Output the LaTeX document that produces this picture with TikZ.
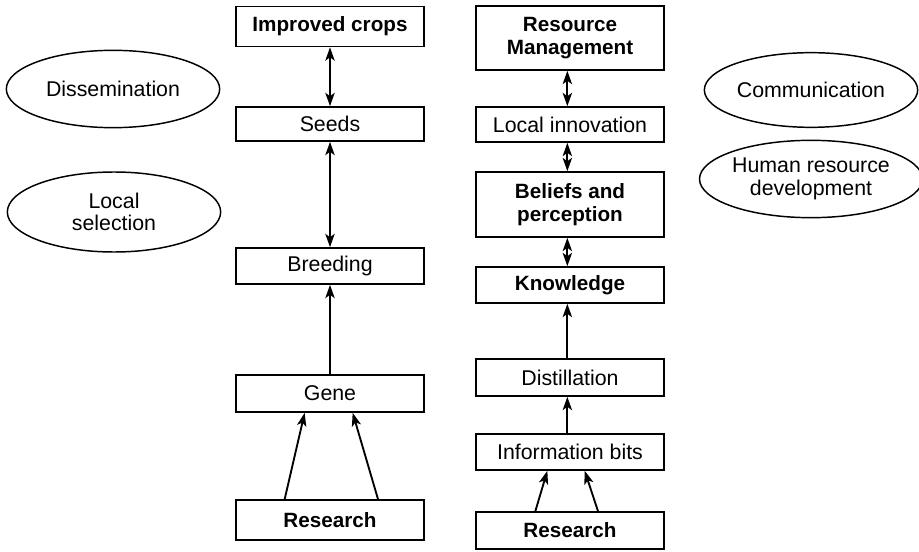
\documentclass[tikz,border=0pt]{standalone}
\usepackage{fontspec}
\setmainfont{Liberation Sans}
\usetikzlibrary{arrows.meta,shapes.geometric}

\tikzset{
  box/.style={draw, line width=1.2pt, minimum width=141pt, minimum height=#1,
    inner sep=0pt, align=center, font=\fontsize{16}{17}\selectfont},
  box/.default=27pt,
  bbox/.style={box=#1, font=\fontsize{15.5}{17}\selectfont\bfseries},
  bbox/.default=27pt,
  oval/.style={ellipse, draw, line width=1.1pt, minimum width=160pt, minimum height=#1,
    inner sep=0pt, align=center, font=\fontsize{16}{17}\selectfont},
  head/.style={Stealth[length=10pt,width=7pt,inset=2.5pt]},
  link/.style={line width=1.4pt, -{Stealth[length=10pt,width=7pt,inset=2.5pt]}},
  both/.style={line width=1.4pt, {Stealth[length=10pt,width=7pt,inset=2.5pt]}-{Stealth[length=10pt,width=7pt,inset=2.5pt]}}
}

\begin{document}
\begin{tikzpicture}[x=0.75pt, y=-0.75pt]
  \useasboundingbox (0,0) rectangle (919,552);

  %%%%% ovals %%%%%
  \node[oval=58pt] (dissem) at (113, 89) {Dissemination};
  \node[oval=60pt] (locsel) at (114, 212) {Local\\selection};
  \node[oval=56pt] (comm) at (811, 90) {Communication};
  \node[oval=58pt] (hrd) at (811, 179) {Human resource\\development};

  %%%%% seed chain %%%%%
  \node[bbox=30pt] (crops) at (330, 26.5) {Improved crops};
  \node[box=25.5pt] (seeds) at (330, 124) {Seeds};
  \node[box=27pt] (breed) at (330, 266) {Breeding};
  \node[box=27.75pt] (gene) at (330, 393.5) {Gene};
  \node[bbox=30pt] (resl) at (330, 520) {Research};

  \draw[both] (crops) -- (seeds);
  \draw[both] (seeds) -- (breed);
  \draw[link] (gene) -- (breed);
  \draw[link] ([xshift=-34pt]resl.north) -- ([xshift=-19pt]gene.south);
  \draw[link] ([xshift=36pt]resl.north) -- ([xshift=17pt]gene.south);

  %%%%% knowledge chain %%%%%
  \node[bbox=48pt] (resman) at (570, 38) {Resource\\Management};
  \node[box=26.25pt] (locinn) at (570, 124.5) {Local innovation};
  \node[bbox=48.75pt] (belief) at (570, 204.5) {Beliefs and\\perception};
  \node[bbox=27pt] (know) at (570, 285) {Knowledge};
  \node[box=27.75pt] (distil) at (570, 377.5) {Distillation};
  \node[box=27pt] (infobits) at (570, 452) {Information bits};
  \node[bbox=27.75pt] (resr) at (570, 530.5) {Research};

  \draw[both] ([xshift=-2pt]resman.south) -- ([xshift=-2pt]locinn.north);
  \draw[both] ([xshift=-2pt]locinn.south) -- ([xshift=-2pt]belief.north);
  \draw[both] ([xshift=-2pt]belief.south) -- ([xshift=-2pt]know.north);
  \draw[link] ([xshift=-2pt]distil.north) -- ([xshift=-2pt]know.south);
  \draw[link] ([xshift=-2pt]infobits.north) -- ([xshift=-2pt]distil.south);
  \draw[link] ([xshift=-26pt]resr.north) -- ([xshift=-17pt]infobits.south);
  \draw[link] ([xshift=21pt]resr.north) -- ([xshift=11pt]infobits.south);
\end{tikzpicture}
\end{document}
